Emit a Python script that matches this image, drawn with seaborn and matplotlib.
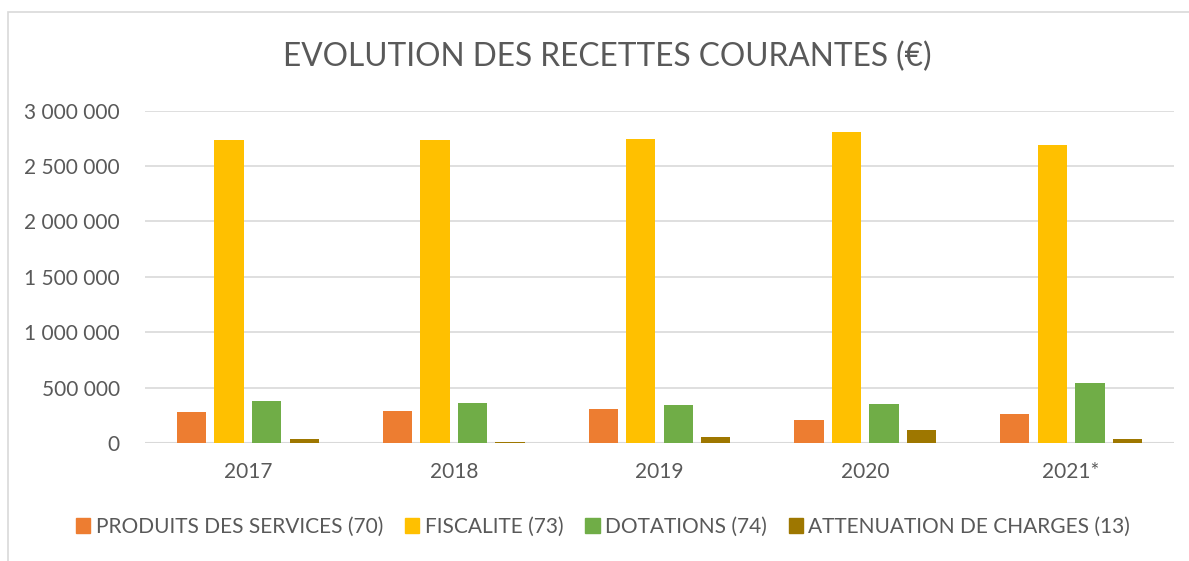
import matplotlib
matplotlib.use("Agg")
import matplotlib.pyplot as plt
import seaborn as sns
import pandas as pd
from matplotlib.patches import Rectangle

years = ["2017", "2018", "2019", "2020", "2021*"]
series = ["PRODUITS DES SERVICES (70)", "FISCALITE (73)", "DOTATIONS (74)", "ATTENUATION DE CHARGES (13)"]
produits = [282000, 291000, 309000, 212000, 266000]
fiscalite = [2733000, 2735000, 2746000, 2810000, 2690000]
dotations = [382000, 357000, 339000, 348000, 542000]
attenuation = [39000, 12000, 55000, 115000, 33000]
colors = ["#ED7D31", "#FFC000", "#70AD47", "#9E7700"]
yticks = [0, 500000, 1000000, 1500000, 2000000, 2500000, 3000000]

rows = []
for name, vals in zip(series, [produits, fiscalite, dotations, attenuation]):
    for y, v in zip(years, vals):
        rows.append({"year": y, "series": name, "value": v})
df = pd.DataFrame(rows)

sns.set_theme(style="white")
plt.rcParams["font.family"] = ["Lato", "DejaVu Sans"]
text_col = "#595959"

fig = plt.figure(figsize=(11.89, 5.61), dpi=100)
ax = fig.add_axes([145/1189, 1-443/561, (1174-145)/1189, (443-110.7)/561])

sns.barplot(data=df, x="year", y="value", hue="series", order=years, hue_order=series,
            palette=colors, width=0.73, gap=0.22, ax=ax, legend=True, saturation=1,
            linewidth=0, errorbar=None)

ax.set_ylim(0, 3000000)
ax.set_yticks(yticks)
ax.set_yticklabels([f"{v:,}".replace(",", " ") for v in yticks])
ax.set_xlabel("")
ax.set_ylabel("")
for s in ax.spines.values():
    s.set_visible(False)
ax.set_axisbelow(True)
ax.yaxis.grid(True, color="#d9d9d9", linewidth=1.2)
ax.axhline(0, color="#d9d9d9", linewidth=1.5, zorder=0.5)
ax.tick_params(axis="y", length=0, pad=18, labelsize=15, labelcolor=text_col)
ax.tick_params(axis="x", length=0, pad=14, labelsize=15, labelcolor=text_col)

ax.legend_.remove()
handles = [Rectangle((0, 0), 1, 1, color=c) for c in colors]
fig.legend(handles, series, loc="center", bbox_to_anchor=(603/1189, 1-527/561), ncol=4,
           frameon=False, fontsize=15, labelcolor=text_col, handlelength=0.7, handleheight=0.7,
           handletextpad=0.25, columnspacing=1.05)

fig.text(607/1189, 1-57/561, "EVOLUTION DES RECETTES COURANTES (€)", ha="center", va="center",
         fontsize=22.8, color=text_col)

fig.patches.append(Rectangle((8/1189, -0.01), 1.1, 1-12/561+0.01, transform=fig.transFigure,
                             fill=False, edgecolor="#d9d9d9", linewidth=1.2))

fig.savefig("out.png", dpi=100)
